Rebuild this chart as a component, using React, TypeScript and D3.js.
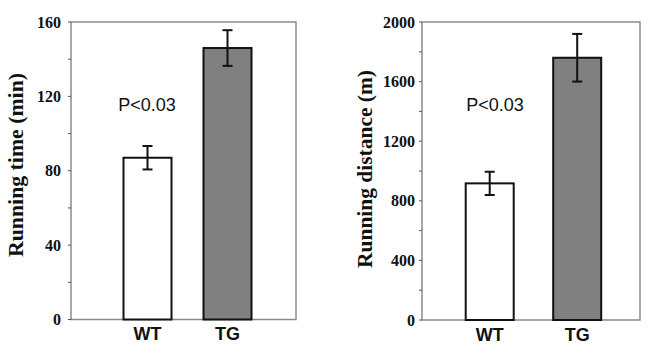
import React from "react";
import * as d3 from "d3";

const categories = ["WT", "TG"];
const timeValues = [87, 146];
const timeErrors = [6.3, 9.6];
const distValues = [917, 1760];
const distErrors = [78, 160];
const timeTicks = [0, 40, 80, 120, 160];
const distTicks = [0, 400, 800, 1200, 1600, 2000];
const fills = ["#ffffff", "#808080"];

type PanelProps = {
  left: number; right: number; top: number; bottom: number;
  max: number; ticks: number[]; minorStep: number;
  values: number[]; errors: number[];
  bandCenters: number[]; barWidth: number;
  title: string; titleX: number; titleY: number; titleLen: number;
  pX: number; pY: number; labelX: number;
};

function Panel(p: PanelProps) {
  const y = d3.scaleLinear().domain([0, p.max]).range([p.bottom, p.top]);
  const minor = d3.range(0, p.max + 1e-9, p.minorStep);
  return (
    <g>
      <rect x={p.left} y={p.top} width={p.right - p.left} height={p.bottom - p.top}
        fill="none" stroke="#8a8a8a" strokeWidth={1.5} />
      {minor.map((t) => (
        <line key={"m" + t} x1={p.left - 3} x2={p.left} y1={y(t)} y2={y(t)} stroke="#555" strokeWidth={1} />
      ))}
      {p.ticks.map((t) => (
        <text key={t} x={p.labelX} y={y(t)} dy="0.35em" textAnchor="end"
          fontFamily="'Liberation Serif', 'Times New Roman', serif" fontWeight="bold" fontSize={16} fill="#111">{t}</text>
      ))}
      {p.values.map((v, i) => {
        const cx = p.bandCenters[i];
        const e = p.errors[i];
        return (
          <g key={i}>
            <rect x={cx - p.barWidth / 2} y={y(v)} width={p.barWidth} height={p.bottom - y(v)}
              fill={fills[i]} stroke="#111" strokeWidth={2} />
            <line x1={cx} x2={cx} y1={y(v + e)} y2={y(v - e)} stroke="#111" strokeWidth={2} />
            <line x1={cx - 5} x2={cx + 5} y1={y(v + e)} y2={y(v + e)} stroke="#111" strokeWidth={2} />
            <line x1={cx - 5} x2={cx + 5} y1={y(v - e)} y2={y(v - e)} stroke="#111" strokeWidth={2} />
            <text x={cx} y={p.bottom + 20.5} textAnchor="middle"
              fontFamily="'Liberation Sans', Arial, sans-serif" fontWeight="bold" fontSize={18} fill="#111">{categories[i]}</text>
          </g>
        );
      })}
      <text x={p.pX} y={p.pY} dy="0.35em" textAnchor="middle"
        fontFamily="'Liberation Sans', Arial, sans-serif" fontSize={18} fill="#111">P&lt;0.03</text>
      <text transform={`translate(${p.titleX},${p.titleY}) rotate(-90)`} textAnchor="middle" dy="0.35em"
        textLength={p.titleLen} lengthAdjust="spacingAndGlyphs"
        fontFamily="'Liberation Serif', 'Times New Roman', serif" fontWeight="bold" fontSize={20} fill="#111">{p.title}</text>
    </g>
  );
}

export default function App() {
  return (
    <svg width={660} height={359} style={{ position: "absolute", left: 0, top: 0, background: "#fff" }}>
      <Panel left={71} right={296} top={22} bottom={319.5} max={160} ticks={timeTicks} minorStep={20}
        values={timeValues} errors={timeErrors} bandCenters={[147.5, 227.5]} barWidth={48}
        title="Running time (min)" titleX={16} titleY={165} titleLen={184} pX={147} pY={105} labelX={61} />
      <Panel left={422} right={640} top={22} bottom={320} max={2000} ticks={distTicks} minorStep={200}
        values={distValues} errors={distErrors} bandCenters={[489.7, 577.2]} barWidth={48}
        title="Running distance (m)" titleX={365} titleY={169} titleLen={198} pX={495} pY={105} labelX={415} />
    </svg>
  );
}
